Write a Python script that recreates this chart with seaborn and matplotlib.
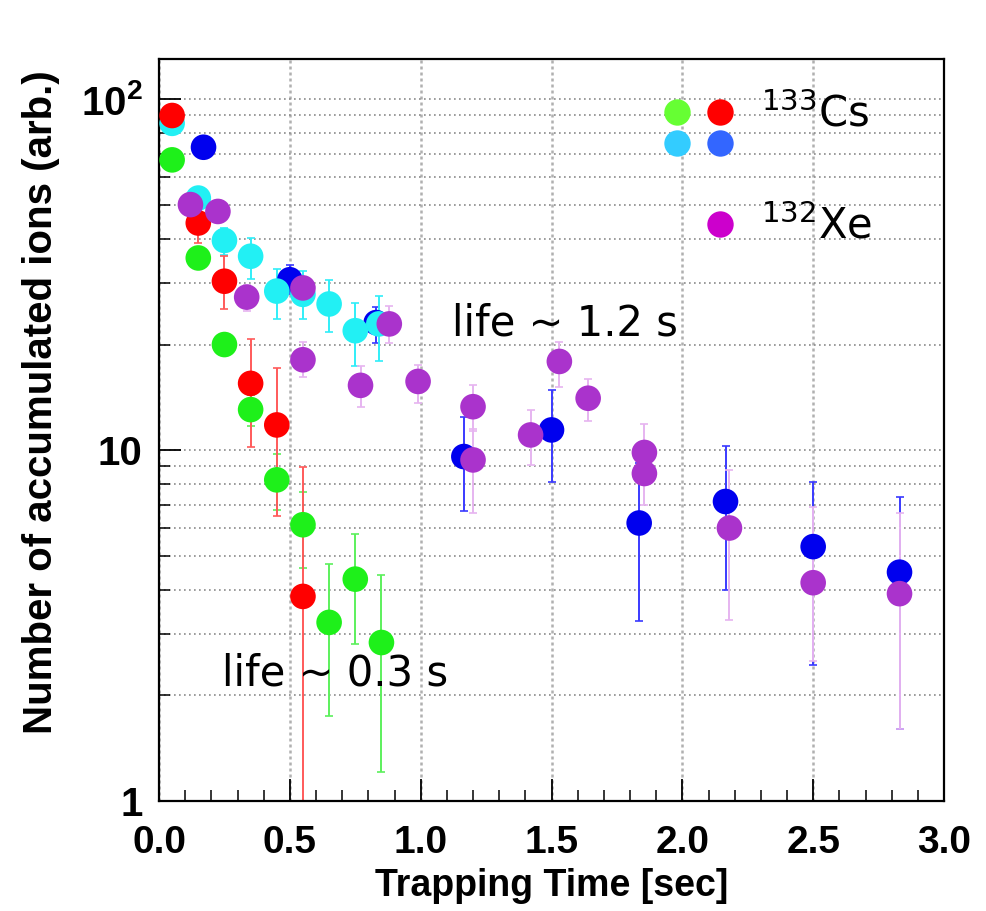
import matplotlib.pyplot as plt
import pandas as pd
import seaborn as sns
from matplotlib.legend_handler import HandlerTuple
from matplotlib.lines import Line2D
from matplotlib.ticker import FixedLocator, FuncFormatter, MultipleLocator, NullFormatter

# trapping time [s], accumulated ions, error bar ends (lo, hi)
green_t = [0.05, 0.15, 0.25, 0.35, 0.45, 0.55, 0.65, 0.75, 0.85]
green_n = [67.2, 35.3, 20.0, 13.05, 8.23, 6.13, 3.23, 4.29, 2.83]
green_lo = [66.0, 33.5, 19.0, 11.7, 6.75, 4.62, 1.75, 2.81, 1.21]
green_hi = [68.5, 37.0, 21.0, 14.4, 9.74, 7.58, 4.74, 5.77, 4.42]

red_t = [0.05, 0.15, 0.25, 0.35, 0.45, 0.55]
red_n = [89.9, 44.4, 30.3, 15.5, 11.8, 3.83]
red_lo = [88.0, 38.9, 25.2, 10.2, 6.5, 0.5]
red_hi = [92.0, 48.0, 35.7, 20.8, 17.1, 8.93]

cyan_t = [0.05, 0.15, 0.25, 0.35, 0.45, 0.55, 0.65, 0.75, 0.84]
cyan_n = [85.4, 52.3, 39.6, 35.7, 28.4, 27.8, 26.1, 21.9, 22.9]
cyan_lo = [84.0, 50.0, 36.0, 30.8, 23.7, 23.7, 21.7, 17.4, 17.9]
cyan_hi = [87.0, 55.0, 43.0, 40.2, 32.8, 32.5, 30.6, 26.3, 27.5]

blue_t = [0.17, 0.50, 0.83, 1.165, 1.50, 1.835, 2.165, 2.50, 2.83]
blue_n = [73.0, 30.6, 23.1, 9.59, 11.42, 6.2, 7.14, 5.31, 4.49]
blue_lo = [72.0, 27.9, 20.2, 6.69, 8.13, 3.25, 4.0, 2.44, 1.6]
blue_hi = [74.0, 33.8, 25.6, 12.4, 14.8, 9.22, 10.3, 8.14, 7.33]

xe_t = [0.12, 0.225, 0.335, 0.55, 0.55, 0.77, 0.88, 0.99, 1.20, 1.20,
        1.42, 1.53, 1.64, 1.855, 1.855, 2.18, 2.50, 2.83]
xe_n = [50.1, 47.9, 27.3, 29.0, 18.1, 15.3, 22.9, 15.7, 13.3, 9.38,
        11.05, 17.9, 14.06, 9.85, 8.58, 6.0, 4.19, 3.9]
xe_lo = [49.0, 46.0, 25.0, 26.5, 16.2, 13.3, 20.2, 13.6, 11.35, 6.64,
         9.05, 15.1, 12.1, 8.5, 7.0, 3.29, 2.5, 1.6]
xe_hi = [51.0, 50.0, 29.5, 31.0, 20.3, 17.4, 25.8, 17.5, 15.3, 11.5,
         13.0, 20.3, 16.0, 11.9, 10.2, 8.77, 6.9, 6.6]

# draw order: later series sit on top
series = {
    "blue": (blue_t, blue_n, blue_lo, blue_hi),
    "cyan": (cyan_t, cyan_n, cyan_lo, cyan_hi),
    "green": (green_t, green_n, green_lo, green_hi),
    "red": (red_t, red_n, red_lo, red_hi),
    "xe": (xe_t, xe_n, xe_lo, xe_hi),
}
dot_colors = {"blue": "#0000ee", "cyan": "#22f0f4", "green": "#1ef01a",
              "red": "#ff0000", "xe": "#aa33cc"}
bar_colors = {"blue": "#3a3aff", "cyan": "#30eef8", "green": "#5cf05c",
              "red": "#ff5a5a", "xe": "#e6b4f0"}
key_colors = {"green": "#66ff33", "red": "#ff0000", "cyan": "#33ccff",
              "blue": "#3366ff", "xe": "#cc00cc"}

rows = []
for name, (t, n, lo, hi) in series.items():
    for ti, ni, li, hi_ in zip(t, n, lo, hi):
        rows.append({"series": name, "t": ti, "n": ni, "lo": li, "hi": hi_})
df = pd.DataFrame(rows)

sns.set_style("ticks")
plt.rcParams["font.family"] = ["Liberation Sans", "DejaVu Sans"]
plt.rcParams["mathtext.default"] = "regular"
plt.rcParams["mathtext.fontset"] = "custom"
plt.rcParams["mathtext.bf"] = "Liberation Sans:bold"
for k in ("text.color", "axes.labelcolor", "xtick.color", "ytick.color", "axes.edgecolor"):
    plt.rcParams[k] = "black"

fig = plt.figure(figsize=(9.86, 9.11), dpi=100)
ax = fig.add_axes([0.1613, 0.1207, 0.7961, 0.8142])

for name in series:
    d = df[df["series"] == name]
    ax.errorbar(d["t"], d["n"], yerr=[d["n"] - d["lo"], d["hi"] - d["n"]],
                fmt="none", ecolor=bar_colors[name], elinewidth=1.4,
                capsize=3, capthick=1.2, zorder=2)

sns.scatterplot(data=df, x="t", y="n", hue="series", palette=dot_colors,
                s=340, linewidth=0, legend=False, ax=ax, zorder=3)

ax.set_yscale("log")
ax.set_xlim(0, 3.0)
ax.set_ylim(1, 130)

ax.xaxis.set_major_locator(MultipleLocator(0.5))
ax.xaxis.set_minor_locator(MultipleLocator(0.1))
ax.xaxis.set_major_formatter(FuncFormatter(lambda v, p: f"{v:.1f}"))
ax.yaxis.set_major_locator(FixedLocator([1, 10, 100]))
ax.yaxis.set_minor_locator(FixedLocator([k * m for m in (1, 10) for k in range(2, 10)]))
ylabels = {1: "1", 10: "10", 100: r"$\mathbf{10^{2}}$"}
ax.yaxis.set_major_formatter(FuncFormatter(lambda v, p: ylabels.get(int(round(v)), "")))
ax.yaxis.set_minor_formatter(NullFormatter())

ax.grid(True, which="both", axis="y", ls=(0, (1, 2)), color="#8a8a8a", lw=1.2)
ax.grid(True, which="major", axis="x", ls=(0, (1.2, 1.2)), color="#b0b0b0", lw=1.8)

ax.tick_params(axis="both", which="major", direction="in", length=16, width=1.3)
ax.tick_params(axis="both", which="minor", direction="in", length=8, width=1.1)
ax.tick_params(axis="x", which="major", pad=17, labelsize=28)
ax.tick_params(axis="y", which="major", pad=12, labelsize=29)
for lab in ax.get_xticklabels() + ax.get_yticklabels():
    lab.set_fontweight("bold")
for sp in ax.spines.values():
    sp.set_visible(True)
    sp.set_linewidth(1.6)
    sp.set_color("black")

ax.set_xlabel("Trapping Time [sec]", fontsize=27, fontweight="bold")
ax.set_ylabel("Number of accumulated ions (arb.)", fontsize=29, fontweight="bold")
ax.xaxis.set_label_coords(0.5, -0.09)
ax.yaxis.set_label_coords(-0.126, 0.538)

ax.text(1.12, 23.0, "life ~ 1.2 s", fontsize=30, family="DejaVu Sans", va="center", ha="left")
ax.text(0.24, 2.31, "life ~ 0.3 s", fontsize=30, family="DejaVu Sans", va="center", ha="left")


def key(c):
    return Line2D([], [], ls="none", marker="o", ms=19, mec="none", mfc=key_colors[c])


blank = Line2D([], [], ls="none")
leg1 = ax.legend([(key("green"), key("red")), (key("cyan"), key("blue"))],
                 ["$^{133}$Cs", ""], handler_map={tuple: HandlerTuple(ndivide=None, pad=0.46)},
                 frameon=False, handlelength=1.6, handletextpad=0.7,
                 labelspacing=-0.27, loc="upper left", bbox_to_anchor=(0.597, 1.005),
                 prop={"family": "DejaVu Sans", "size": 30})
ax.add_artist(leg1)
ax.legend([(blank, key("xe"))], ["$^{132}$Xe"],
          handler_map={tuple: HandlerTuple(ndivide=None, pad=0.46)},
          frameon=False, handlelength=1.6, handletextpad=0.7,
          loc="upper left", bbox_to_anchor=(0.597, 0.854),
          prop={"family": "DejaVu Sans", "size": 30})

fig.savefig("out.png", dpi=100)
